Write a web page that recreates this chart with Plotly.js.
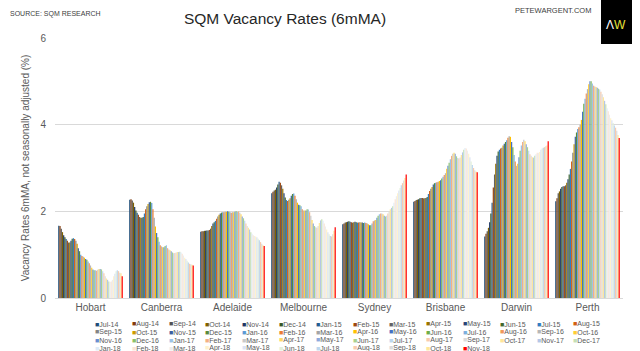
<!DOCTYPE html>
<html>
<head>
<meta charset="utf-8">
<script src="https://cdn.plot.ly/plotly-3.0.1.min.js"></script>
<style>html,body{margin:0;padding:0;background:#fff;}#chart{width:640px;height:351px;}</style>
</head>
<body>
<div id="chart"></div>
<script>
const cities = ['Hobart','Canberra','Adelaide','Melbourne','Sydney','Brisbane','Darwin','Perth'];
const months = ['Jul-14','Aug-14','Sep-14','Oct-14','Nov-14','Dec-14',
 'Jan-15','Feb-15','Mar-15','Apr-15','May-15','Jun-15','Jul-15','Aug-15','Sep-15','Oct-15','Nov-15','Dec-15',
 'Jan-16','Feb-16','Mar-16','Apr-16','May-16','Jun-16','Jul-16','Aug-16','Sep-16','Oct-16','Nov-16','Dec-16',
 'Jan-17','Feb-17','Mar-17','Apr-17','May-17','Jun-17','Jul-17','Aug-17','Sep-17','Oct-17','Nov-17','Dec-17',
 'Jan-18','Feb-18','Mar-18','Apr-18','May-18','Jun-18','Jul-18','Aug-18','Sep-18','Oct-18','Nov-18'];

const hobart = [1.67,1.66,1.60,1.52,1.45,1.40,1.36,1.32,1.28,1.28,1.32,1.37,1.38,1.36,1.32,1.25,1.15,1.08,1.00,0.97,0.95,0.93,0.90,0.88,0.84,0.80,0.75,0.70,0.66,0.64,0.64,0.63,0.65,0.67,0.67,0.66,0.62,0.57,0.50,0.45,0.42,0.38,0.37,0.38,0.42,0.50,0.56,0.62,0.64,0.62,0.58,0.57,0.50];
const canberra = [2.27,2.28,2.25,2.20,2.10,2.02,1.97,1.92,1.87,1.85,1.85,1.87,1.95,2.05,2.12,2.17,2.21,2.22,2.19,2.05,1.85,1.65,1.50,1.40,1.30,1.22,1.19,1.17,1.17,1.20,1.22,1.15,1.12,1.10,1.08,1.05,1.03,1.04,1.05,1.06,1.06,1.07,1.05,1.02,0.98,0.93,0.90,0.86,0.82,0.79,0.78,0.77,0.75];
const adelaide = [1.53,1.54,1.54,1.55,1.55,1.56,1.56,1.57,1.60,1.66,1.72,1.75,1.78,1.83,1.88,1.92,1.95,1.97,1.98,1.98,1.99,1.99,2.00,1.99,1.98,1.97,1.98,1.98,1.99,2.00,1.99,2.00,1.97,1.93,1.88,1.84,1.78,1.72,1.66,1.62,1.58,1.52,1.48,1.45,1.43,1.42,1.40,1.37,1.33,1.29,1.25,1.22,1.20];
const melbourne = [2.42,2.45,2.48,2.50,2.55,2.62,2.68,2.66,2.60,2.52,2.42,2.32,2.26,2.24,2.27,2.30,2.36,2.40,2.41,2.36,2.28,2.20,2.15,2.14,2.12,2.05,2.02,2.02,2.02,2.05,2.04,1.98,1.90,1.80,1.72,1.66,1.63,1.62,1.66,1.73,1.79,1.82,1.78,1.72,1.65,1.58,1.52,1.47,1.43,1.42,1.47,1.55,1.63];
const sydney = [1.70,1.72,1.74,1.75,1.76,1.77,1.76,1.75,1.74,1.75,1.76,1.75,1.74,1.74,1.75,1.74,1.74,1.73,1.74,1.73,1.72,1.70,1.68,1.68,1.72,1.77,1.79,1.80,1.85,1.90,1.93,1.95,1.95,1.93,1.90,1.88,1.90,1.95,2.00,2.05,2.08,2.12,2.20,2.28,2.35,2.42,2.48,2.54,2.60,2.65,2.71,2.77,2.85];
const brisbane = [2.22,2.24,2.26,2.27,2.28,2.30,2.31,2.31,2.30,2.30,2.31,2.33,2.40,2.47,2.52,2.56,2.62,2.65,2.66,2.67,2.68,2.70,2.72,2.76,2.80,2.84,2.88,2.98,3.05,3.12,3.20,3.28,3.33,3.35,3.33,3.27,3.23,3.22,3.24,3.30,3.36,3.42,3.46,3.45,3.40,3.33,3.25,3.15,3.07,3.00,2.95,2.92,2.90];
const darwin = [1.42,1.48,1.54,1.62,1.75,1.95,2.20,2.55,2.85,3.10,3.28,3.38,3.42,3.45,3.47,3.52,3.56,3.60,3.64,3.70,3.73,3.72,3.60,3.48,3.30,3.15,3.05,3.10,3.25,3.40,3.52,3.60,3.65,3.62,3.55,3.48,3.40,3.32,3.28,3.25,3.24,3.28,3.32,3.35,3.35,3.37,3.42,3.45,3.47,3.48,3.50,3.52,3.62];
const perth = [2.23,2.30,2.42,2.46,2.52,2.56,2.58,2.58,2.60,2.66,2.74,2.85,2.98,3.15,3.35,3.55,3.72,3.82,3.90,3.94,4.00,4.11,4.30,4.48,4.60,4.72,4.82,4.93,5.00,5.00,4.95,4.90,4.88,4.87,4.85,4.83,4.81,4.76,4.70,4.63,4.55,4.47,4.38,4.31,4.23,4.15,4.10,4.04,3.98,3.93,3.86,3.76,3.69];

const seriesColors = [
 '#1F4E79','#843C0C','#525252','#7F6000','#203864','#385723',
 '#255E91','#9E480E','#636363','#997300','#264478','#43682B',
 '#327DC2','#D26012','#848484','#CC9A00','#3A5FA0','#5A8A39',
 '#5B9BD5','#ED7D31','#A5A5A5','#FFC000','#4472C4','#70AD47',
 '#7CAFDD','#F1975A','#B7B7B7','#FFCD33','#698ED0','#8CC168',
 '#9DC3E6','#F4B183','#C9C9C9','#FFD966','#8FAADC','#A9D18E',
 '#BDD7EE','#F8CBAD','#DBDBDB','#FFE699','#B4C7E7','#C5E0B4',
 '#DEEBF7','#FBE5D6','#EDEDED','#FFF2CC','#DAE3F3','#E2F0D9',
 '#BDD7EE','#F8CBAD','#DBDBDB','#FFE699','#FF0000'];

const cityData = [hobart, canberra, adelaide, melbourne, sydney, brisbane, darwin, perth];

const traces = months.map((m, i) => ({
  type: 'bar',
  name: m,
  x: cities,
  y: cityData.map(arr => arr[i]),
  marker: {color: seriesColors[i], line: {width: 0}},
  showlegend: false,
  hoverinfo: 'name+y'
}));

// layout geometry (px)
const W = 640, H = 351, L = 55, R = 17, T = 38, B = 53;
const pw = W - L - R, ph = H - T - B;
const px2x = p => (p - L) / pw;
const py2y = p => (H - B - p) / ph;

const annotations = [];
// custom legend (14 columns x 4 rows)
months.forEach((m, i) => {
  const col = i % 14, row = Math.floor(i / 14);
  annotations.push({
    xref: 'paper', yref: 'paper',
    x: px2x(93 + col * 36.8), y: py2y(324.3 + row * 8),
    xanchor: 'left', yanchor: 'middle', showarrow: false,
    text: '<span style="color:' + seriesColors[i] + '">■</span>' + m,
    font: {family: 'Liberation Sans, Arial, sans-serif', size: 7, color: '#595959'}
  });
});
annotations.push({
  xref: 'paper', yref: 'paper', x: px2x(8), y: py2y(14), xanchor: 'left', yanchor: 'middle',
  showarrow: false, text: 'SOURCE: SQM RESEARCH',
  font: {family: 'Liberation Sans, Arial, sans-serif', size: 7, color: '#404040'}
});
annotations.push({
  xref: 'paper', yref: 'paper', x: px2x(593), y: py2y(11), xanchor: 'right', yanchor: 'middle',
  showarrow: false, text: 'PETEWARGENT.COM',
  font: {family: 'Liberation Sans, Arial, sans-serif', size: 7.5, color: '#404040'}
});
annotations.push({
  xref: 'paper', yref: 'paper', x: px2x(616), y: py2y(25), xanchor: 'center', yanchor: 'middle',
  showarrow: false, text: '<span style="color:#ffffff">Λ</span><span style="color:#E8E23A">W</span>',
  font: {family: 'Liberation Sans, Arial, sans-serif', size: 12, color: '#ffffff'}
});

const layout = {
  width: W, height: H,
  margin: {l: L, r: R, t: T, b: B},
  paper_bgcolor: '#ffffff', plot_bgcolor: '#ffffff',
  barmode: 'group', bargap: 0.09, bargroupgap: 0,
  font: {family: 'Liberation Sans, Arial, sans-serif', color: '#595959'},
  title: {
    text: 'SQM Vacancy Rates (6mMA)',
    x: 285 / W, xref: 'container', xanchor: 'center',
    y: 1 - 19 / H, yref: 'container', yanchor: 'middle',
    font: {family: 'Liberation Sans, Arial, sans-serif', size: 15.5, color: '#262626'}
  },
  xaxis: {
    type: 'category', showgrid: false, zeroline: false,
    showline: true, linecolor: '#D9D9D9', linewidth: 1,
    ticks: '', tickfont: {size: 10, color: '#595959'}
  },
  yaxis: {
    range: [0, 6], dtick: 2, tick0: 0,
    showgrid: true, gridcolor: '#D9D9D9', gridwidth: 1,
    zeroline: false, showline: false,
    ticks: 'outside', ticklen: 6, tickcolor: 'rgba(0,0,0,0)',
    tickfont: {size: 10, color: '#595959'},
    title: {text: 'Vacancy Rates 6mMA, not seasonally adjusted (%)', standoff: 8,
            font: {size: 10, color: '#595959'}}
  },
  shapes: [{
    type: 'rect', xref: 'paper', yref: 'paper',
    x0: px2x(601), x1: px2x(632), y0: py2y(44), y1: py2y(0),
    fillcolor: '#000000', line: {width: 0}, layer: 'above'
  }],
  annotations: annotations
};

Plotly.newPlot('chart', traces, layout, {displayModeBar: false, staticPlot: true});
</script>
</body>
</html>
